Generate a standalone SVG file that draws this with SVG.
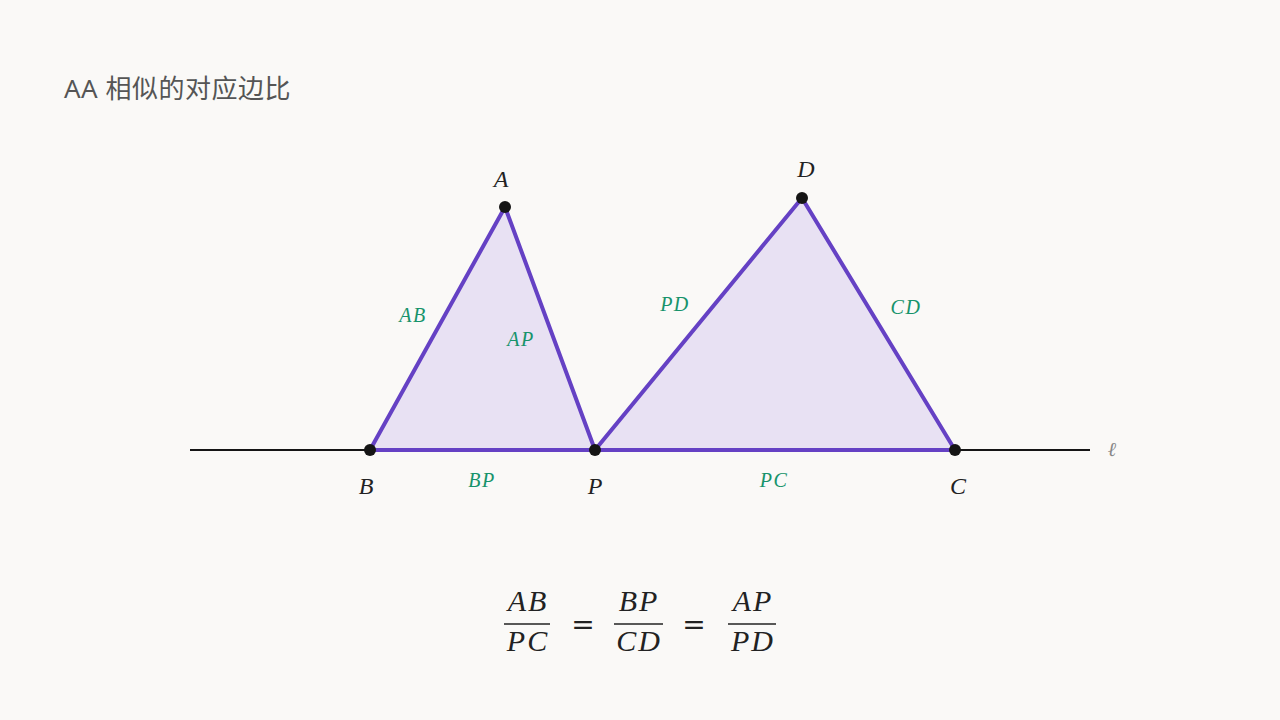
<svg xmlns="http://www.w3.org/2000/svg" width="1280" height="720" viewBox="0 0 1280 720">
<style>
.v{font-family:"Liberation Serif","DejaVu Serif",serif;font-style:italic;font-size:24px;fill:#222;text-anchor:middle}
.s{font-family:"Liberation Serif","DejaVu Serif",serif;font-style:italic;font-size:20px;fill:#17936b;text-anchor:middle;letter-spacing:1.5px}
.f{font-family:"Liberation Serif","DejaVu Serif",serif;font-style:italic;font-size:30px;fill:#222;text-anchor:middle;letter-spacing:2px}
.eq{font-family:"DejaVu Sans",sans-serif;font-size:28px;fill:#222;text-anchor:middle}
.tri{fill:#e8e1f3;stroke:#6541c4;stroke-width:4;stroke-linejoin:round}
.pt{fill:#151515}
.bar{stroke:#222;stroke-width:1.4}
</style>
<rect width="1280" height="720" fill="#faf9f7"/>
<text x="64" y="98" font-family="'Noto Sans','Noto Sans CJK SC',sans-serif" font-size="26" fill="#555" letter-spacing="0.5">AA 相似的对应边比</text>
<g id="connectors">
<line x1="190" y1="450" x2="1090" y2="450" stroke="#151515" stroke-width="2.2"/>
</g>
<g id="triangle-ABP"><polygon class="tri" points="505,207 370,450 595,450"/></g>
<g id="triangle-PDC"><polygon class="tri" points="802,198 595,450 955,450"/></g>
<g id="side-labels">
<text class="s" x="413" y="322">AB</text>
<text class="s" x="521" y="346">AP</text>
<text class="s" x="482" y="487">BP</text>
<text class="s" x="675" y="311">PD</text>
<text class="s" x="774" y="487">PC</text>
<text class="s" x="906" y="314">CD</text>
</g>
<g id="point-A"><circle class="pt" cx="505" cy="207" r="6"/><text class="v" x="501" y="187">A</text></g>
<g id="point-B"><circle class="pt" cx="370" cy="450" r="6"/><text class="v" x="366" y="494">B</text></g>
<g id="point-P"><circle class="pt" cx="595" cy="450" r="6"/><text class="v" x="595" y="494">P</text></g>
<g id="point-C"><circle class="pt" cx="955" cy="450" r="6"/><text class="v" x="958" y="494">C</text></g>
<g id="point-D"><circle class="pt" cx="802" cy="198" r="6"/><text class="v" x="806" y="177">D</text></g>
<g id="line-l"><text x="1112" y="456" font-family="'Liberation Serif','DejaVu Serif',serif" font-style="italic" font-size="20" fill="#888" text-anchor="middle">ℓ</text></g>
<g id="formula">
<text class="f" x="528" y="611">AB</text>
<line class="bar" x1="504" y1="624" x2="550" y2="624"/>
<text class="f" x="528" y="651">PC</text>
<text class="eq" x="583" y="634">=</text>
<text class="f" x="639" y="611">BP</text>
<line class="bar" x1="614" y1="624" x2="663" y2="624"/>
<text class="f" x="639" y="651">CD</text>
<text class="eq" x="694" y="634">=</text>
<text class="f" x="753" y="611">AP</text>
<line class="bar" x1="728" y1="624" x2="776" y2="624"/>
<text class="f" x="753" y="651">PD</text>
</g>
</svg>
